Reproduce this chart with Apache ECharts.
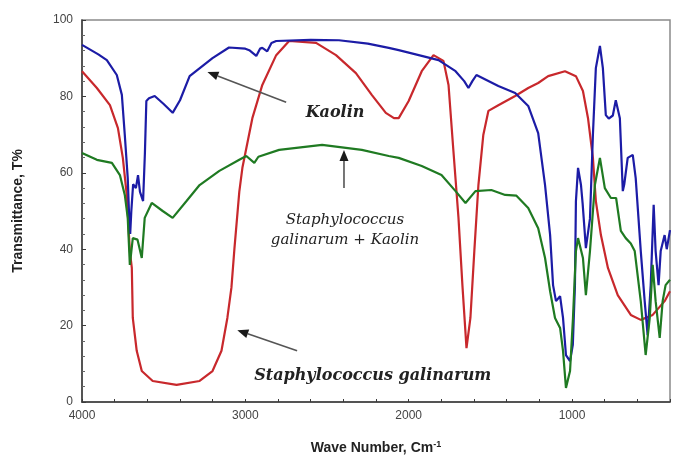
<!DOCTYPE html>
<html>
<head>
<meta charset="utf-8">
<script src="https://cdn.jsdelivr.net/npm/echarts@6/dist/echarts.min.js"></script>
<style>
  html, body { margin: 0; padding: 0; background: #fff; }
  #chart { width: 673px; height: 461px; }
</style>
</head>
<body>
<div id="chart"></div>
<script>
// wavenumber (cm-1) / transmittance (%)
const kaolinWn = [4000, 3900, 3848, 3787, 3756, 3738, 3720, 3710, 3705, 3698, 3687, 3670, 3657, 3645, 3636, 3626, 3615, 3606, 3590, 3555, 3500, 3445, 3400, 3341, 3201, 3100, 3000, 2976, 2933, 2910, 2896, 2866, 2840, 2811, 2600, 2427, 2250, 2122, 2061, 1920, 1817, 1713, 1660, 1634, 1610, 1585, 1451, 1348, 1268, 1207, 1165, 1134, 1116, 1098, 1073, 1055, 1037, 1012, 995, 982, 976, 963, 945, 935, 915, 890, 872, 854, 829, 811, 793, 775, 750, 732, 707, 689, 680, 659, 628, 610, 579, 555, 537, 518, 500, 488, 470, 457, 433, 420, 400];
const kaolinT = [93.5, 91, 89.5, 85.6, 80.4, 69.9, 58.6, 47, 44, 50, 57, 56, 59.4, 55, 54.7, 52.6, 65, 78.8, 79.5, 80.1, 78, 75.7, 79, 85.3, 90, 92.8, 92.5, 92.1, 90.6, 92.5, 92.7, 91.8, 94, 94.5, 94.8, 94.7, 93.8, 92.7, 92.1, 90.6, 89.5, 86.6, 84, 82.2, 84, 85.6, 82.7, 80.9, 77.5, 70.4, 56.8, 43.7, 30.6, 26.4, 27.7, 22, 12.3, 10.7, 15, 30.6, 52.6, 61.3, 56.8, 52, 40.3, 48, 69.9, 87.4, 93.2, 87.4, 75.1, 74.2, 75, 79, 74.3, 55.2, 57, 63.9, 64.7, 58.6, 39.5, 26.4, 17.5, 30.6, 51.6, 39.5, 30.6, 39.5, 43.7, 40, 45];

const staphWn = [4000, 3909, 3829, 3780, 3750, 3726, 3707, 3695, 3689, 3665, 3634, 3567, 3421, 3280, 3201, 3146, 3110, 3085, 3067, 3037, 3018, 2957, 2896, 2811, 2732, 2567, 2445, 2323, 2226, 2140, 2090, 2061, 2000, 1920, 1848, 1787, 1756, 1726, 1695, 1671, 1646, 1622, 1598, 1573, 1543, 1512, 1451, 1348, 1268, 1207, 1146, 1043, 976, 933, 902, 872, 854, 823, 780, 720, 640, 579, 506, 433, 400];
const staphT = [86.6, 82.2, 77.7, 71.7, 63.9, 54.2, 39.5, 35.1, 22, 13.4, 8.1, 5.5, 4.5, 5.5, 8.1, 13.4, 22, 30, 40, 55, 61.3, 74.3, 83, 90.8, 94.5, 94, 90.8, 86.1, 80.4, 75.7, 74.3, 74.3, 78.8, 86.6, 90.8, 89.3, 83, 65.7, 48.2, 30.6, 14.1, 22, 39.5, 56.8, 69.9, 76.2, 77.7, 80.1, 82.2, 83.5, 85.3, 86.6, 85.3, 81.4, 74.3, 63.9, 52.6, 43.7, 35.1, 28, 22.8, 21.5, 22.8, 26.4, 29];

const mixWn = [4000, 3909, 3817, 3768, 3738, 3720, 3707, 3689, 3660, 3634, 3616, 3573, 3506, 3445, 3360, 3280, 3159, 3037, 2994, 2945, 2920, 2793, 2530, 2287, 2122, 2061, 1920, 1799, 1713, 1652, 1591, 1494, 1409, 1340, 1268, 1207, 1165, 1134, 1104, 1073, 1055, 1037, 1012, 994, 976, 963, 933, 915, 890, 860, 829, 799, 762, 730, 701, 671, 640, 616, 579, 549, 524, 506, 488, 463, 445, 427, 400];
const mixT = [65.2, 63.4, 62.6, 59.4, 54.2, 48.2, 35.9, 42.9, 42.5, 37.7, 48.2, 52.1, 50, 48.2, 52.6, 56.8, 60.5, 63.4, 64.4, 62.6, 64.2, 66, 67.3, 66, 64.4, 63.9, 61.8, 59.4, 55.2, 52.1, 55.2, 55.5, 54.2, 54, 50.8, 45.5, 37.7, 29, 22, 19.4, 13.4, 3.7, 8.1, 22, 39.5, 42.9, 37.7, 28, 39.5, 56.8, 63.9, 56, 53.4, 53.4, 44.8, 42.9, 41.5, 39.5, 26.4, 12.3, 22, 35.9, 26.4, 16.8, 26.4, 30.6, 32];

const xTickLabels = [4000, 3000, 2000, 1000];

// annotations, in data coordinates: [wavenumber, T%]
const labels = [
  { text: 'Kaolin', at: [2451, 75.7], font: 'italic bold 16px "DejaVu Serif"' },
  { text: 'Staphylococcus', at: [2390, 47.6], font: 'italic 15px "DejaVu Serif"' },
  { text: 'galinarum + Kaolin', at: [2390, 42.4], font: 'italic 15px "DejaVu Serif"' },
  { text: 'Staphylococcus galinarum', at: [2220, 6.8], font: 'italic bold 16px "DejaVu Serif"' },
];
const arrows = [
  { from: [2750, 78.5], to: [3232, 86.4] },
  { from: [2396, 56], to: [2396, 66] },
  { from: [2683, 13.4], to: [3049, 18.8] },
];

const zip = (xs, ys) => xs.map((x, i) => [x, ys[i]]);
const axisColor = '#3a3a3a';

const chart = echarts.init(document.getElementById('chart'), null, { renderer: 'canvas' });
chart.setOption({
  backgroundColor: '#fff',
  animation: false,
  grid: { left: 82, right: 3, top: 20, bottom: 59, show: true, borderColor: '#8a8a8a', borderWidth: 1.5 },
  xAxis: {
    type: 'value', inverse: true, min: 400, max: 4000, interval: 200,
    name: '{a|Wave Number, Cm}{s|-1}', nameLocation: 'middle', nameGap: 38,
    nameTextStyle: {
      rich: {
        a: { fontFamily: 'Liberation Sans', fontWeight: 'bold', fontSize: 14, color: '#222' },
        s: { fontFamily: 'Liberation Sans', fontWeight: 'bold', fontSize: 9, color: '#222', verticalAlign: 'top', padding: [0, 0, 8, 0] },
      },
    },
    axisLine: { lineStyle: { color: axisColor, width: 1.5 } },
    axisTick: { inside: true, length: 3, lineStyle: { color: axisColor } },
    axisLabel: {
      formatter: v => (xTickLabels.includes(v) ? String(v) : ''),
      fontFamily: 'Liberation Sans', fontSize: 12, color: '#444', margin: 8,
      showMinLabel: true, showMaxLabel: true,
    },
    splitLine: { show: false },
  },
  yAxis: {
    type: 'value', min: 0, max: 100, interval: 20,
    name: 'Transmittance, T%', nameLocation: 'middle', nameGap: 57, nameRotate: 90,
    nameTextStyle: { fontFamily: 'Liberation Sans', fontWeight: 'bold', fontSize: 14, color: '#222' },
    axisLine: { show: true, lineStyle: { color: axisColor, width: 1.5 } },
    axisTick: { show: true, inside: true, length: 4, lineStyle: { color: axisColor } },
    minorTick: { show: true, splitNumber: 5, length: 3, lineStyle: { color: '#666' } },
    axisLabel: { fontFamily: 'Liberation Sans', fontSize: 12, color: '#444', margin: 9 },
    splitLine: { show: false },
  },
  series: [
    { name: 'Kaolin', type: 'line', data: zip(kaolinWn, kaolinT), showSymbol: false, lineStyle: { color: '#1c1ca6', width: 2.2 }, z: 3 },
    { name: 'Staphylococcus galinarum', type: 'line', data: zip(staphWn, staphT), showSymbol: false, lineStyle: { color: '#c8282c', width: 2.2 }, z: 2 },
    { name: 'Staphylococcus galinarum + Kaolin', type: 'line', data: zip(mixWn, mixT), showSymbol: false, lineStyle: { color: '#1f7a22', width: 2.2 }, z: 4 },
  ],
});

// arrows and text placed from data coordinates
const px = p => chart.convertToPixel({ xAxisIndex: 0, yAxisIndex: 0 }, p);
const elements = [];
arrows.forEach(a => {
  const [x1, y1] = px(a.from);
  const [x2, y2] = px(a.to);
  const ang = Math.atan2(y2 - y1, x2 - x1);
  const len = 11, half = 4.5;
  const bx = x2 - len * Math.cos(ang), by = y2 - len * Math.sin(ang);
  elements.push({ type: 'line', shape: { x1, y1, x2: bx, y2: by }, style: { stroke: '#555', lineWidth: 1.6 }, z: 10 });
  elements.push({
    type: 'polygon', z: 10,
    shape: { points: [[x2, y2], [bx + half * Math.sin(ang), by - half * Math.cos(ang)], [bx - half * Math.sin(ang), by + half * Math.cos(ang)]] },
    style: { fill: '#1a1a1a' },
  });
});
labels.forEach(l => {
  const [x, y] = px(l.at);
  elements.push({ type: 'text', x, y, z: 10, style: { text: l.text, font: l.font, fill: '#222', align: 'center', verticalAlign: 'middle' } });
});
chart.setOption({ graphic: elements });
</script>
</body>
</html>
